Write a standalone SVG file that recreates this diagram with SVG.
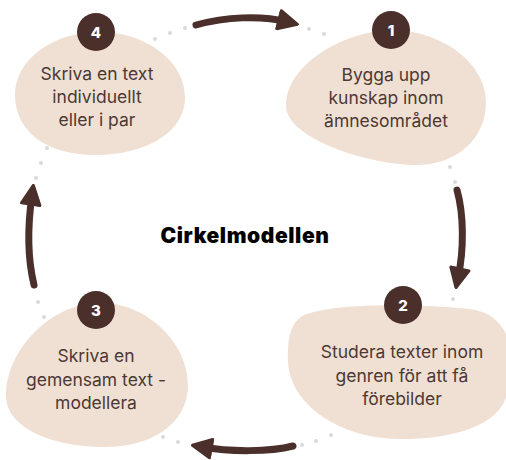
<svg xmlns="http://www.w3.org/2000/svg" width="506" height="460" viewBox="0 0 506 460">
<style>
.blob{fill:#f0e0d4}
.badge{fill:#4b2f2b}
.num{fill:#ffffff;font-family:Inter,"Liberation Sans",sans-serif;font-weight:800;font-size:15px;text-anchor:middle}
.lbl{fill:#4d3833;font-family:Inter,"Liberation Sans",sans-serif;font-size:17.5px;text-anchor:middle}
.title{fill:#000000;font-family:Inter,"Liberation Sans",sans-serif;font-weight:900;font-size:21px;letter-spacing:0.6px;text-anchor:middle}
.arrow{fill:none;stroke:#4b2f2b;stroke-width:7;stroke-linecap:round;marker-end:url(#head)}
.dot{fill:#dadada}
</style>
<defs>
<marker id="head" viewBox="0 0 10 10" refX="5" refY="5" markerWidth="22" markerHeight="22" markerUnits="userSpaceOnUse" orient="auto">
<path d="M0.8,0.8 L9.4,5 L0.8,9.2 Z" fill="#4b2f2b" stroke="#4b2f2b" stroke-width="1.4" stroke-linejoin="round"/>
</marker>
</defs>
<rect width="506" height="460" fill="#ffffff"/>
<g id="dots">
<circle class="dot" cx="155" cy="39" r="2"/><circle class="dot" cx="170" cy="33" r="2"/><circle class="dot" cx="185" cy="28" r="2"/>
<circle class="dot" cx="309" cy="29" r="2"/><circle class="dot" cx="324" cy="34" r="2"/>
<circle class="dot" cx="450" cy="167" r="2"/><circle class="dot" cx="455" cy="182" r="2"/>
<circle class="dot" cx="453" cy="299" r="2"/>
<circle class="dot" cx="331" cy="435" r="2"/><circle class="dot" cx="316" cy="441" r="2"/><circle class="dot" cx="302" cy="445" r="2"/>
<circle class="dot" cx="163" cy="437" r="2"/><circle class="dot" cx="178" cy="442" r="2"/>
<circle class="dot" cx="38" cy="302" r="2"/><circle class="dot" cx="44" cy="317" r="2"/>
<circle class="dot" cx="47" cy="148" r="2"/><circle class="dot" cx="41" cy="163" r="2"/><circle class="dot" cx="36" cy="178" r="2"/>
</g>
<g id="connectors">
<path class="arrow" d="M196,25 C225,17 260,15 288,22"/>
<path class="arrow" d="M457,190 C464,215 464,250 458,278"/>
<path class="arrow" d="M293,446 C270,452 230,452 202,447"/>
<path class="arrow" d="M34,285 C28,260 27,230 32,195"/>
</g>
<g id="node4">
<path class="blob" d="M96,32 C140,30 185,58 185,97 C185,135 142,155 95,155 C45,155 15,130 15,95 C15,60 52,33 96,32 Z"/>
<circle class="badge" cx="96" cy="32" r="19"/>
<text class="num" x="96" y="37.5">4</text>
<text class="lbl" x="97" y="80">Skriva en text</text>
<text class="lbl" x="97" y="103">individuellt</text>
<text class="lbl" x="97" y="126">eller i par</text>
</g>
<g id="node1">
<path class="blob" d="M391,30 C440,30 486,62 486,102 C486,142 452,167 412,165 C362,163 286,137 286,106 C286,66 340,32 391,30 Z"/>
<circle class="badge" cx="391" cy="30" r="19"/>
<text class="num" x="391" y="35.5">1</text>
<text class="lbl" x="386" y="81">Bygga upp</text>
<text class="lbl" x="386" y="104">kunskap inom</text>
<text class="lbl" x="386" y="127">ämnesområdet</text>
</g>
<g id="node3">
<path class="blob" d="M96,303 C142,300 188,340 188,385 C188,425 150,447 105,447 C50,447 6,427 6,396 C6,350 50,305 96,303 Z"/>
<circle class="badge" cx="96" cy="310" r="19"/>
<text class="num" x="96" y="315.5">3</text>
<text class="lbl" x="96" y="362">Skriva en</text>
<text class="lbl" x="96" y="386">gemensam text -</text>
<text class="lbl" x="96" y="409">modellera</text>
</g>
<g id="node2">
<path class="blob" d="M302,316 C332,302 420,304 470,309 C512,314 520,360 505,400 C490,436 420,442 382,438 C332,432 290,402 288,362 C287,340 290,324 302,316 Z"/>
<circle class="badge" cx="403" cy="305" r="19"/>
<text class="num" x="403" y="310.5">2</text>
<text class="lbl" x="402" y="358">Studera texter inom</text>
<text class="lbl" x="402" y="382">genren för att få</text>
<text class="lbl" x="402" y="405">förebilder</text>
</g>
<g id="title">
<text class="title" x="245" y="243">Cirkelmodellen</text>
</g>
</svg>
